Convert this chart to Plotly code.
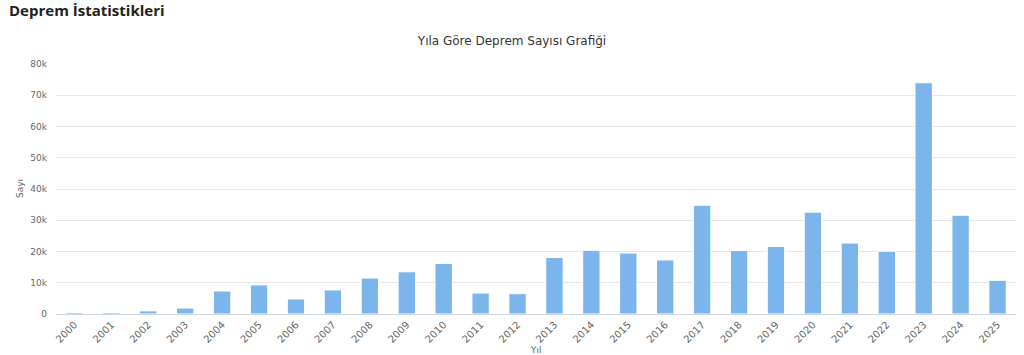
import plotly.graph_objects as go

years = [str(y) for y in range(2000, 2026)]
counts = [500, 500, 1000, 1900, 7350, 9300, 4800, 7700, 11500, 13500,
          16200, 6700, 6500, 18100, 20400, 19500, 17300, 34800, 20300, 21600,
          32600, 22700, 20100, 74000, 31600, 10800]
y_ticks = [0, 10000, 20000, 30000, 40000, 50000, 60000, 70000, 80000]
y_tick_labels = ["0", "10k", "20k", "30k", "40k", "50k", "60k", "70k", "80k"]

page_title = "Deprem İstatistikleri"
chart_title = "Yıla Göre Deprem Sayısı Grafiği"
x_title = "Yıl"
y_title = "Sayı"

font = "DejaVu Sans, Verdana, sans-serif"

fig = go.Figure(go.Bar(
    x=years, y=counts,
    marker=dict(color="#7cb5ec", line=dict(color="#ffffff", width=1)),
))

fig.update_layout(
    width=1024, height=355,
    margin=dict(l=56, r=8, t=64, b=41),
    paper_bgcolor="white", plot_bgcolor="white",
    bargap=0.53,
    showlegend=False,
    font=dict(family=font, color="#666666"),
    title=dict(text=chart_title, x=0.5, xanchor="center", y=1 - 41 / 355, yref="container",
               yanchor="middle", font=dict(family=font, size=12, color="#333333")),
)

fig.update_xaxes(
    type="category", tickangle=-45, showgrid=False,
    showline=True, linecolor="#ccd6eb", linewidth=1,
    tickfont=dict(size=10, color="#666666"),
    ticks="", fixedrange=True,
)
fig.update_yaxes(
    range=[0, 80000], tickvals=y_ticks, ticktext=y_tick_labels,
    showgrid=True, gridcolor="#e6e6e6", gridwidth=1, zeroline=False,
    tickfont=dict(size=9, color="#666666"), ticklabelstandoff=8,
)

fig.add_annotation(text="<b>" + page_title + "</b>", xref="paper", yref="paper", x=0, y=1,
                   xanchor="left", yanchor="middle", xshift=-49, yshift=54,
                   showarrow=False,
                   font=dict(family="Open Sans, Noto Sans, sans-serif", size=15, color="#222222"))
fig.add_annotation(text=x_title, xref="paper", yref="paper", x=0.5, y=0,
                   xanchor="center", yanchor="middle", yshift=-36, showarrow=False,
                   font=dict(family=font, size=9, color="#666666"))
fig.add_annotation(text=y_title, xref="paper", yref="paper", x=0, y=0.5,
                   xanchor="center", yanchor="middle", xshift=-36, textangle=-90,
                   showarrow=False, font=dict(family=font, size=9, color="#666666"))

fig.write_html("out.html")
